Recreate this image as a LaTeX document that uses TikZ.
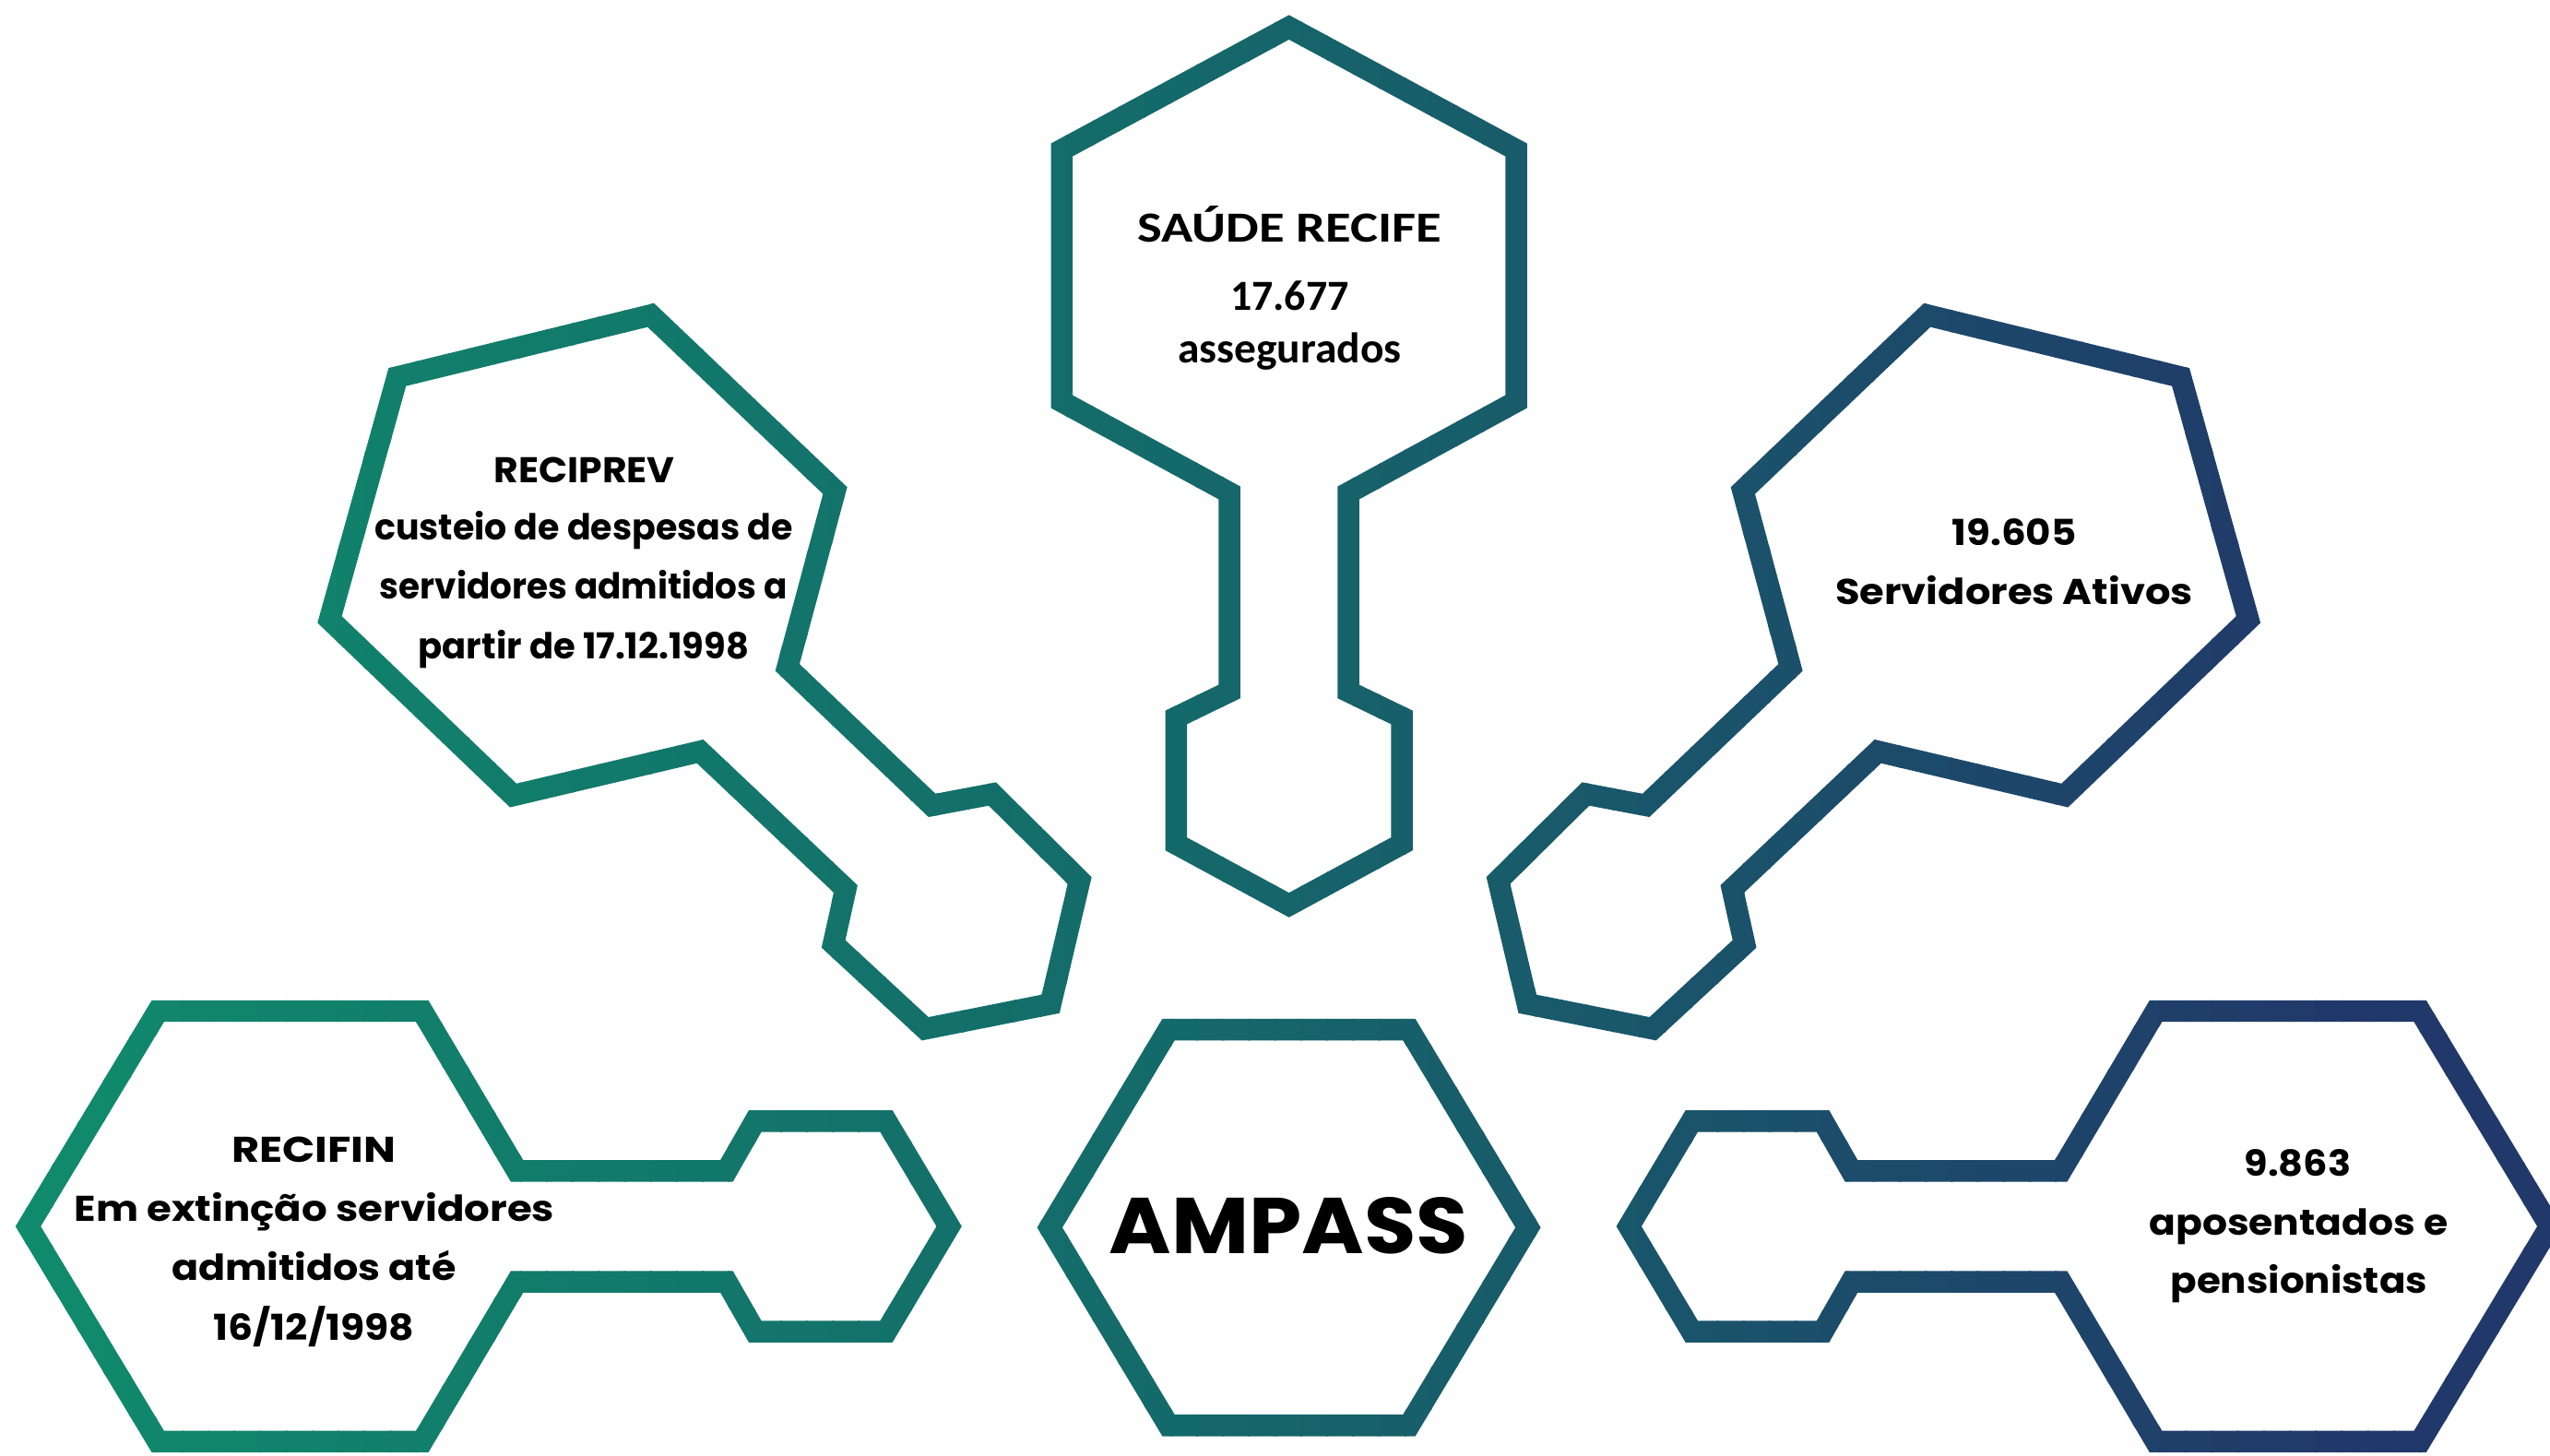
\documentclass[tikz,border=0pt]{standalone}
\usepackage{fontspec}
\usepackage{graphicx}
\newfontfamily\popf{Poppins}
\newfontfamily\calf{Carlito}
\definecolor{cGreen}{RGB}{16,139,108}
\definecolor{cTeal}{RGB}{20,106,106}
\definecolor{cNavy}{RGB}{33,56,106}
\newcommand\fitw[2]{\resizebox{#1pt}{\height}{#2}}
\newcommand\allshapes[1]{%
 % SAUDE RECIFE key (neck down)
 \draw[#1] (792.6,16.8) -- (932.3,92.2) -- (932.3,247.0) -- (829.2,303.1) -- (829.2,425.3) -- (862.0,441.2) -- (862.0,519.0) -- (792.6,556.6) -- (723.2,519.0) -- (723.2,441.2) -- (756.0,425.3) -- (756.0,303.1) -- (652.9,247.0) -- (652.9,92.2) -- cycle;
 % RECIPREV key
 \draw[#1] (400.2,193.8) -- (513.5,301.7) -- (484.2,410.5) -- (573.1,495.3) -- (610.2,488.3) -- (663.9,541.5) -- (646.0,617.4) -- (568.9,632.7) -- (512.5,580.5) -- (520.0,546.7) -- (430.5,462.1) -- (315.6,489.2) -- (202.7,381.0) -- (244.3,231.9) -- cycle;
 % Servidores Ativos key (mirror)
 \draw[#1, shift={(1585.2,0)}, xscale=-1] (400.2,193.8) -- (513.5,301.7) -- (484.2,410.5) -- (573.1,495.3) -- (610.2,488.3) -- (663.9,541.5) -- (646.0,617.4) -- (568.9,632.7) -- (512.5,580.5) -- (520.0,546.7) -- (430.5,462.1) -- (315.6,489.2) -- (202.7,381.0) -- (244.3,231.9) -- cycle;
 % RECIFIN key
 \draw[#1] (17.3,754.2) -- (97.1,621.8) -- (259.6,621.8) -- (317.9,720.1) -- (446.8,720.1) -- (464.3,689.5) -- (545.0,689.5) -- (583.6,754.2) -- (545.0,818.9) -- (464.3,818.9) -- (446.8,788.3) -- (317.9,788.3) -- (259.6,886.6) -- (97.1,886.6) -- cycle;
 % aposentados key (mirror)
 \draw[#1, shift={(1585.2,0)}, xscale=-1] (17.3,754.2) -- (97.1,621.8) -- (259.6,621.8) -- (317.9,720.1) -- (446.8,720.1) -- (464.3,689.5) -- (545.0,689.5) -- (583.6,754.2) -- (545.0,818.9) -- (464.3,818.9) -- (446.8,788.3) -- (317.9,788.3) -- (259.6,886.6) -- (97.1,886.6) -- cycle;
 % AMPASS hexagon
 \draw[#1] (645.5,754.9) -- (718.5,633.2) -- (866.5,633.2) -- (939.6,754.9) -- (866.5,876.6) -- (718.5,876.6) -- cycle;
}
\tikzset{
 outline/.style={line width=13.3pt, line join=miter},
 txt/.style={inner sep=0pt, anchor=base, text=black},
 popt/.style={txt, font=\popf\bfseries\fontsize{22}{26}\selectfont},
 calt/.style={txt, font=\calf\bfseries\fontsize{26.4}{30}\selectfont},
 bigt/.style={txt, font=\popf\bfseries\fontsize{48.6}{52}\selectfont}
}
\begin{document}
\begin{tikzpicture}[x=1pt, y=-1pt]
\useasboundingbox (0,0) rectangle (1568,895.4);
\fill[white] (0,0) rectangle (1568,895.4);
\foreach \i in {0,...,97}{%
 \pgfmathsetmacro\xa{\i*16-0.5}%
 \pgfmathsetmacro\xb{\i*16+16.8}%
 \pgfmathsetmacro\tpos{(\i+0.5)/98}%
 \pgfmathtruncatemacro\pa{min(\tpos/0.45,1)*100}%
 \pgfmathtruncatemacro\pbb{max(min((\tpos-0.45)/0.47,1),0)*100}%
 \colorlet{tmpc}{cTeal!\pa!cGreen}%
 \colorlet{stripc}{cNavy!\pbb!tmpc}%
 \begin{scope}
  \clip (\xa,-30) rectangle (\xb,930);
  \allshapes{outline, draw=stripc}
 \end{scope}
}
% SAUDE RECIFE
\node[calt] (s1) at (793,149.0) {\fitw{187}{SAÚDE RECIFE}};
\node[calt] (s2) at (793,190.6) {\fitw{72.9}{17.677}};
\node[calt] (s3) at (793,223.1) {\fitw{137.6}{assegurados}};
% RECIPREV
\node[popt] (p1) at (359.3,296.8) {\fitw{111.3}{RECIPREV}};
\node[popt] (p2) at (358.9,332.1) {\fitw{257.2}{custeio de despesas de}};
\node[popt] (p3) at (358.9,368.4) {\fitw{250.6}{servidores admitidos a}};
\node[popt] (p4) at (358.9,405.3) {\fitw{203.2}{partir de 17.12.1998}};
% Servidores Ativos
\node[popt] (a1) at (1238.5,335.5) {\fitw{76.5}{19.605}};
\node[popt] (a2) at (1238.5,371.5) {\fitw{219.7}{Servidores Ativos}};
% AMPASS
\node[bigt] (m1) at (792.3,771.2) {\fitw{220.7}{AMPASS}};
% RECIFIN
\node[popt] (f1) at (193,715.0) {\fitw{101}{RECIFIN}};
\node[popt] (f2) at (193.3,751.3) {\fitw{295.2}{Em extinção servidores}};
\node[popt] (f3) at (193,787.3) {\fitw{175}{admitidos até}};
\node[popt] (f4) at (193,824.0) {\fitw{123.3}{16/12/1998}};
% aposentados
\node[popt] (b1) at (1412.8,723.6) {\fitw{65.5}{9.863}};
\node[popt] (b2) at (1413.4,759.5) {\fitw{183.7}{aposentados e}};
\node[popt] (b3) at (1413.6,795.3) {\fitw{157.9}{pensionistas}};
\end{tikzpicture}
\end{document}
